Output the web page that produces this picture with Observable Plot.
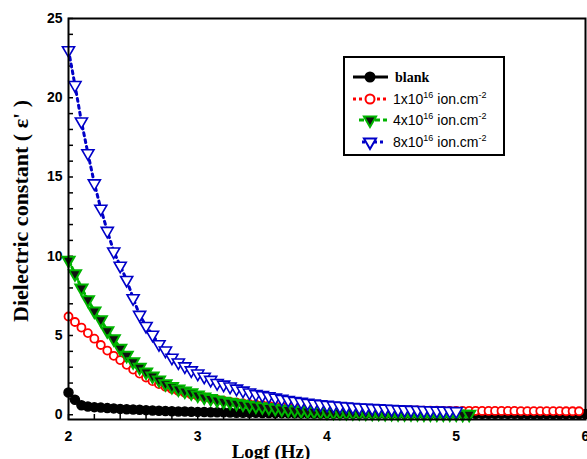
<!DOCTYPE html>
<html><head><meta charset="utf-8">
<script src="https://cdn.jsdelivr.net/npm/d3@7"></script>
<script src="https://cdn.jsdelivr.net/npm/@observablehq/plot@0.6"></script>
<style>
body{margin:0;background:#fff}
#chart{position:relative;width:587px;height:459px;overflow:hidden}
</style>
</head><body><div id="chart"></div>
<script>
// log10 of frequency (Hz)
const logf = [2.00,2.05,2.10,2.15,2.20,2.25,2.30,2.35,2.40,2.45,
  2.50,2.55,2.60,2.65,2.70,2.75,2.80,2.85,2.90,2.95,
  3.00,3.05,3.10,3.15,3.20,3.25,3.30,3.35,3.40,3.45,
  3.50,3.55,3.60,3.65,3.70,3.75,3.80,3.85,3.90,3.95,
  4.00,4.05,4.10,4.15,4.20,4.25,4.30,4.35,4.40,4.45,
  4.50,4.55,4.60,4.65,4.70,4.75,4.80,4.85,4.90,4.95,
  5.00,5.05,5.10,5.15,5.20,5.25,5.30,5.35,5.40,5.45,
  5.50,5.55,5.60,5.65,5.70,5.75,5.80,5.85,5.90,5.95,
  6.00];
const blank = [1.4,0.95,0.6,0.52,0.48,0.45,0.42,0.4,0.37,0.35,
  0.33,0.31,0.29,0.27,0.25,0.24,0.22,0.21,0.2,0.19,
  0.18,0.17,0.16,0.15,0.15,0.14,0.13,0.13,0.12,0.12,
  0.11,0.11,0.1,0.1,0.1,0.09,0.09,0.09,0.08,0.08,
  0.08,0.08,0.08,0.07,0.07,0.07,0.07,0.07,0.07,0.07,
  0.06,0.06,0.06,0.06,0.06,0.06,0.06,0.06,0.06,0.06,
  0.06,0.06,0.06,0.06,0.06,0.06,0.06,0.06,0.06,0.06,
  0.05,0.05,0.05,0.05,0.05,0.05,0.05,0.05,0.05,0.05,
  0.05];
const dose1 = [6.2,5.85,5.5,5.15,4.8,4.4,4.05,3.72,3.45,3.15,
  2.85,2.6,2.35,2.12,1.93,1.77,1.62,1.5,1.39,1.28,
  1.18,1.09,1.0,0.93,0.87,0.81,0.76,0.71,0.67,0.63,
  0.6,0.57,0.54,0.51,0.48,0.46,0.44,0.42,0.4,0.38,
  0.37,0.36,0.34,0.33,0.32,0.31,0.3,0.3,0.29,0.29,
  0.28,0.28,0.27,0.27,0.27,0.26,0.26,0.26,0.25,0.25,
  0.25,0.25,0.25,0.25,0.24,0.24,0.24,0.24,0.24,0.24,
  0.23,0.23,0.23,0.23,0.23,0.23,0.23,0.22,0.22,0.22];
const dose4 = [9.75,8.9,8.0,7.25,6.55,6.0,5.3,4.8,4.2,3.75,
  3.35,3.0,2.7,2.45,2.2,1.95,1.78,1.62,1.5,1.38,
  1.25,1.12,1.02,0.93,0.85,0.79,0.73,0.67,0.6,0.55,
  0.5,0.45,0.41,0.37,0.33,0.3,0.27,0.24,0.22,0.2,
  0.18,0.16,0.15,0.14,0.13,0.12,0.11,0.1,0.09,0.08,
  0.08,0.07,0.07,0.06,0.06,0.05,0.05,0.05,0.04,0.04,
  0.04,0.03,0.03];
const dose8 = [23.0,20.8,18.5,16.5,14.6,13.0,11.6,10.3,9.4,8.5,
  7.35,6.3,5.6,5.05,4.45,4.05,3.6,3.3,3.05,2.8,
  2.6,2.4,2.2,2.0,1.9,1.78,1.65,1.52,1.4,1.3,
  1.24,1.17,1.08,1.0,0.93,0.87,0.81,0.75,0.7,0.66,
  0.62,0.58,0.55,0.52,0.49,0.46,0.44,0.42,0.4,0.38,
  0.36,0.34,0.32,0.31,0.3,0.28,0.27,0.26,0.25,0.24,
  0.23];
const xTicks = [2,3,4,5,6];
const yTicks = [0,5,10,15,20,25];
const legendLabels = ["blank","1x10","4x10","8x10"];

const toRows = ys => ys.map((v,i)=>({x:logf[i], y:v}));
const dBlank = toRows(blank), d1 = toRows(dose1), d4 = toRows(dose4), d8 = toRows(dose8);

const RED="#ff0000", GREEN="#00b400", BLUE="#0000c8";
const xMinor = d3.range(0,21).map(i=>2+i*0.2);
const yMinor = d3.range(0,26);
const SANS = "'Liberation Sans', Arial, sans-serif";
const SERIF = "'Liberation Serif', 'Times New Roman', serif";

const plot = Plot.plot({
  width:587, height:459,
  marginLeft:68, marginRight:2, marginTop:18, marginBottom:40,
  x:{domain:[2,6]},
  y:{domain:[-0.3,25]},
  style:{fontFamily:SANS, fontSize:"14px", fontWeight:"bold", background:"white", color:"black", overflow:"visible"},
  marks:[
    Plot.axisX({ticks:xMinor, tickSize:-5, tickFormat:()=>"", strokeWidth:1.5, label:null}),
    Plot.axisX({ticks:xTicks, tickSize:0, tickPadding:12, label:null, tickFormat:d=>String(d), fontSize:14, fontWeight:"bold", fontFamily:SANS}),
    Plot.axisY({ticks:yMinor, tickSize:-5, tickFormat:()=>"", strokeWidth:1.5, label:null}),
    Plot.axisY({ticks:yTicks, tickSize:0, tickPadding:6, label:null, tickFormat:d=>String(d), fontSize:14, fontWeight:"bold", fontFamily:SANS}),
    Plot.line(dBlank,{x:"x",y:"y",stroke:"black",strokeWidth:2}),
    Plot.dot(dBlank,{x:"x",y:"y",r:4.5,fill:"black",stroke:"black"}),
    Plot.line(d1,{x:"x",y:"y",stroke:RED,strokeWidth:3,strokeDasharray:"3,3"}),
    Plot.dot(d1,{x:"x",y:"y",r:4,fill:"white",stroke:RED,strokeWidth:1.8}),
    Plot.line(d4,{x:"x",y:"y",stroke:GREEN,strokeWidth:3,strokeDasharray:"5,3"}),
    Plot.dot(d4,{x:"x",y:"y",symbol:"triangle",rotate:180,r:4.5,fill:"#111",stroke:GREEN,strokeWidth:2}),
    Plot.line(d8,{x:"x",y:"y",stroke:BLUE,strokeWidth:3,strokeDasharray:"3,4"}),
    Plot.dot(d8,{x:"x",y:"y",symbol:"triangle",rotate:180,r:4.5,fill:"white",stroke:BLUE,strokeWidth:1.6}),
    Plot.frame({stroke:"black",strokeWidth:2})
  ]
});
document.getElementById("chart").appendChild(plot);

const svg = d3.select(plot);
// axis titles
svg.append("text").attr("transform","translate(28,211) rotate(-90)")
  .attr("text-anchor","middle").attr("font-family",SERIF)
  .attr("font-weight","bold").attr("font-size",22).text("Dielectric constant ( \u03b5' )");
svg.append("text").attr("x",271).attr("y",458)
  .attr("text-anchor","middle").attr("font-family",SERIF)
  .attr("font-weight","bold").attr("font-size",19).text("Logf (Hz)");

// legend
const lg = svg.append("g").attr("text-anchor","start");
lg.append("rect").attr("x",344).attr("y",57).attr("width",160).attr("height",98)
  .attr("fill","white").attr("stroke","black").attr("stroke-width",2);
const rowsY = [77, 99, 120, 142];
const items = [
  {color:"black", dash:null, x1:353, x2:388, sym:"circle", fill:"black"},
  {color:RED, dash:"3,3", x1:353, x2:386, sym:"circle", fill:"white"},
  {color:GREEN, dash:"5,3", x1:359, x2:387, sym:"tri", fill:"#111"},
  {color:BLUE, dash:"3,3", x1:362, x2:386, sym:"tri", fill:"white"}
];
items.forEach((it,i)=>{
  const y = rowsY[i];
  const ln = lg.append("line").attr("x1",it.x1).attr("x2",it.x2).attr("y1",y).attr("y2",y)
    .attr("stroke",it.color).attr("stroke-width",3);
  if(it.dash) ln.attr("stroke-dasharray",it.dash);
  if(it.sym==="circle"){
    lg.append("circle").attr("cx",370).attr("cy",y).attr("r",4.5)
      .attr("fill",it.fill).attr("stroke",it.color).attr("stroke-width",2);
  } else {
    lg.append("path").attr("d",d3.symbol(d3.symbolTriangle, Math.PI*4.5*4.5)())
      .attr("transform",`translate(370,${y}) rotate(180)`)
      .attr("fill",it.fill).attr("stroke",it.color).attr("stroke-width",2);
  }
  if(i===0){
    lg.append("text").attr("x",395).attr("y",y+4.5).attr("text-anchor","start")
      .attr("font-family",SERIF)
      .attr("font-weight","bold").attr("font-size",14).text(legendLabels[0]);
  } else {
    const t = lg.append("text").attr("x",393).attr("y",y+5).attr("text-anchor","start")
      .attr("font-family",SANS)
      .attr("font-weight","normal").attr("font-size",14);
    t.append("tspan").text(legendLabels[i]);
    t.append("tspan").attr("dy",-6).attr("font-size",9).text("16");
    t.append("tspan").attr("dy",6).text(" ion.cm");
    t.append("tspan").attr("dy",-6).attr("font-size",9).text("-2");
  }
});
</script>
</body></html>
